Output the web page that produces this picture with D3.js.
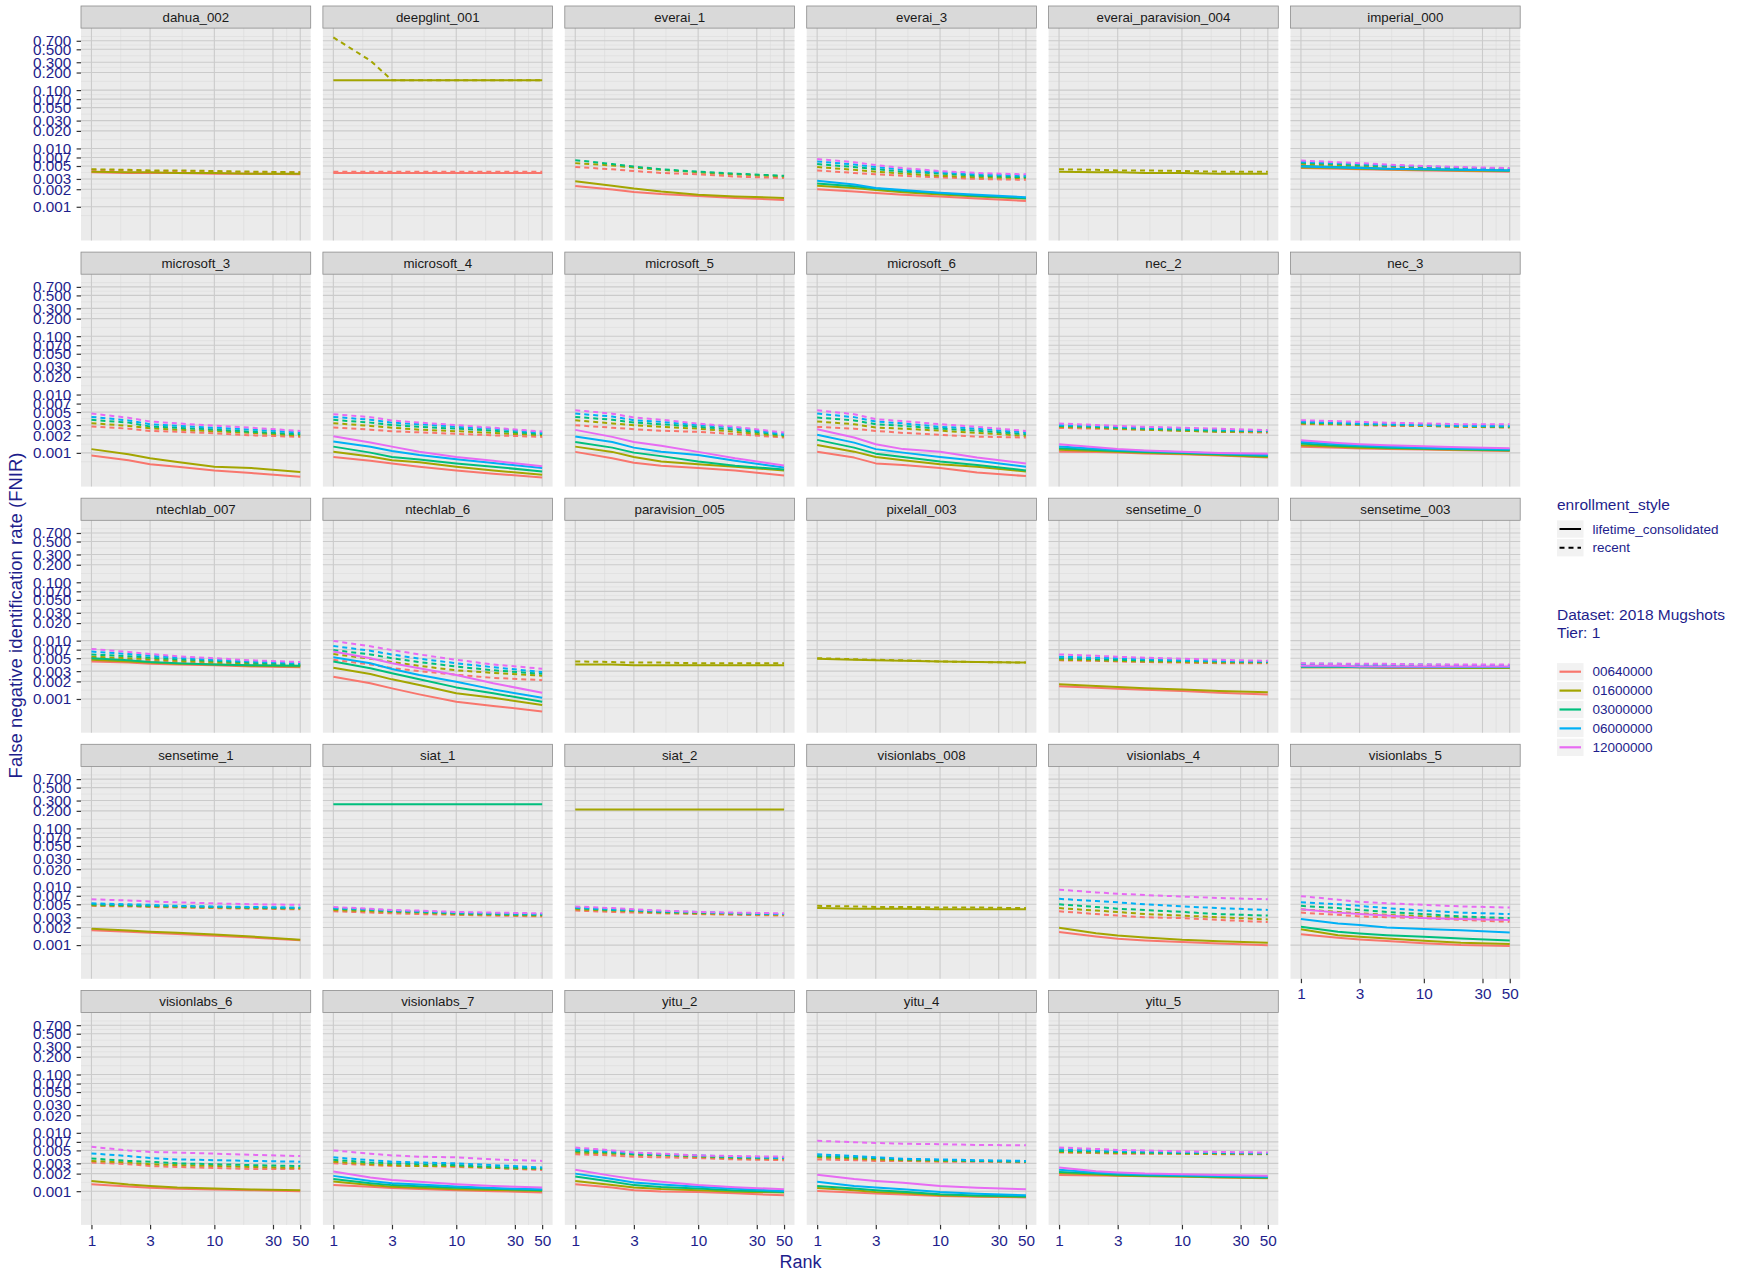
<!DOCTYPE html>
<html><head><meta charset="utf-8">
<script src="https://cdn.jsdelivr.net/npm/d3@7"></script>
<style>
body{margin:0;background:#fff;}
svg{display:block;font-family:"Liberation Sans",Arial,Helvetica,sans-serif;}
</style>
</head><body>
<svg id="chart" width="1741" height="1272"></svg>
<script>
// ---------------- data ----------------
const ranks = [1, 2, 3, 5, 10, 20, 50];
const galleries = ["00640000", "01600000", "03000000", "06000000", "12000000"];
const galleryColors = ["#F8766D", "#A3A500", "#00BF7D", "#00B0F6", "#E76BF3"];
const styles = ["lifetime_consolidated", "recent"];
const L = styles[0], R = styles[1];
const yBreaks = [0.001, 0.002, 0.003, 0.005, 0.007, 0.01, 0.02, 0.03, 0.05, 0.07, 0.1, 0.2, 0.3, 0.5, 0.7];
const xBreaks = [1, 3, 10, 30, 50];
const algorithms = [
  "dahua_002", "deepglint_001", "everai_1", "everai_3", "everai_paravision_004", "imperial_000",
  "microsoft_3", "microsoft_4", "microsoft_5", "microsoft_6", "nec_2", "nec_3",
  "ntechlab_007", "ntechlab_6", "paravision_005", "pixelall_003", "sensetime_0", "sensetime_003",
  "sensetime_1", "siat_1", "siat_2", "visionlabs_008", "visionlabs_4", "visionlabs_5",
  "visionlabs_6", "visionlabs_7", "yitu_2", "yitu_4", "yitu_5"
];

// each row: [gallery, enrollment_style, FNIR at ranks]
const dahua_002 = [
  ["00640000", L, [0.0039, 0.0038, 0.0038, 0.0038, 0.0037, 0.0037, 0.0036]],
  ["00640000", R, [0.0043, 0.0042, 0.0041, 0.0041, 0.0040, 0.0039, 0.0039]],
  ["01600000", L, [0.0040, 0.0039, 0.0039, 0.0038, 0.0038, 0.0037, 0.0037]],
  ["01600000", R, [0.0044, 0.0043, 0.0042, 0.0042, 0.0041, 0.0040, 0.0039]]
];
const deepglint_001 = [
  ["00640000", L, [0.0038, 0.0038, 0.0038, 0.0038, 0.0038, 0.0038, 0.0038]],
  ["00640000", R, [0.0040, 0.0040, 0.0040, 0.0040, 0.0040, 0.0040, 0.0040]],
  ["01600000", L, [0.148, 0.148, 0.148, 0.148, 0.148, 0.148, 0.148]],
  ["01600000", R, [0.80, 0.32, 0.148, 0.148, 0.148, 0.148, 0.148]]
];
const everai_1 = [
  ["00640000", L, [0.00227, 0.00198, 0.0018, 0.00165, 0.00153, 0.00142, 0.00131]],
  ["00640000", R, [0.0048, 0.0044, 0.0041, 0.0038, 0.0036, 0.0033, 0.0031]],
  ["01600000", L, [0.00273, 0.0023, 0.00205, 0.00182, 0.00161, 0.0015, 0.00142]],
  ["01600000", R, [0.0056, 0.0051, 0.0047, 0.0043, 0.0039, 0.0036, 0.0033]],
  ["03000000", R, [0.0063, 0.0054, 0.0049, 0.0044, 0.0040, 0.0037, 0.0034]]
];
const everai_3 = [
  ["00640000", L, [0.00199, 0.00183, 0.00173, 0.00161, 0.0015, 0.00138, 0.00126]],
  ["00640000", R, [0.0042, 0.0038, 0.0036, 0.0034, 0.0032, 0.0030, 0.0029]],
  ["01600000", L, [0.0023, 0.0021, 0.00193, 0.00178, 0.00163, 0.0015, 0.00138]],
  ["01600000", R, [0.0048, 0.0043, 0.0040, 0.0037, 0.0034, 0.0032, 0.0031]],
  ["03000000", L, [0.0025, 0.00225, 0.00205, 0.00188, 0.0017, 0.00155, 0.0014]],
  ["03000000", R, [0.0054, 0.0048, 0.0044, 0.0040, 0.0037, 0.0034, 0.0032]],
  ["06000000", L, [0.0028, 0.0024, 0.0021, 0.00193, 0.00174, 0.0016, 0.00146]],
  ["06000000", R, [0.0060, 0.0053, 0.0048, 0.0043, 0.0039, 0.0036, 0.0034]],
  ["12000000", R, [0.0066, 0.0058, 0.0052, 0.0046, 0.0041, 0.0038, 0.0036]]
];
const everai_paravision_004 = [
  ["01600000", L, [0.0040, 0.0039, 0.0039, 0.0038, 0.0038, 0.0037, 0.0037]],
  ["01600000", R, [0.0044, 0.0043, 0.0042, 0.0042, 0.0041, 0.0040, 0.0040]]
];
const imperial_000 = [
  ["00640000", L, [0.0046, 0.0045, 0.0044, 0.0043, 0.0042, 0.0041, 0.0040]],
  ["00640000", R, [0.0053, 0.0051, 0.0050, 0.0048, 0.0046, 0.0045, 0.0043]],
  ["01600000", L, [0.0047, 0.0046, 0.0045, 0.0044, 0.0043, 0.0042, 0.0041]],
  ["01600000", R, [0.0055, 0.0052, 0.0051, 0.0049, 0.0047, 0.0045, 0.0044]],
  ["03000000", L, [0.0050, 0.0048, 0.0047, 0.0045, 0.0044, 0.0043, 0.0042]],
  ["03000000", R, [0.0057, 0.0054, 0.0052, 0.0050, 0.0048, 0.0046, 0.0044]],
  ["06000000", L, [0.0049, 0.0047, 0.0046, 0.0045, 0.0044, 0.0043, 0.0042]],
  ["06000000", R, [0.0059, 0.0056, 0.0054, 0.0051, 0.0049, 0.0047, 0.0045]],
  ["12000000", R, [0.0062, 0.0058, 0.0056, 0.0053, 0.0050, 0.0048, 0.0046]]
];
const microsoft_3 = [
  ["00640000", L, [0.0009, 0.00075, 0.00064, 0.00058, 0.0005, 0.00045, 0.00039]],
  ["00640000", R, [0.00283, 0.0026, 0.00238, 0.0023, 0.00217, 0.0020, 0.00188]],
  ["01600000", L, [0.00116, 0.00095, 0.00081, 0.0007, 0.00058, 0.00055, 0.00047]],
  ["01600000", R, [0.00323, 0.0029, 0.00265, 0.0025, 0.00235, 0.0022, 0.00198]],
  ["03000000", R, [0.00368, 0.0033, 0.00283, 0.0027, 0.0025, 0.0023, 0.00209]],
  ["06000000", R, [0.00414, 0.0036, 0.0031, 0.0029, 0.0027, 0.0025, 0.00223]],
  ["12000000", R, [0.00472, 0.0040, 0.00345, 0.0032, 0.00294, 0.0027, 0.00238]]
];
const microsoft_4 = [
  ["00640000", L, [0.00085, 0.00073, 0.00066, 0.00058, 0.0005, 0.00044, 0.00038]],
  ["00640000", R, [0.00272, 0.0025, 0.00235, 0.00225, 0.00212, 0.0020, 0.00188]],
  ["01600000", L, [0.00105, 0.00087, 0.00075, 0.00069, 0.00058, 0.0005, 0.00042]],
  ["01600000", R, [0.00323, 0.0029, 0.0027, 0.0025, 0.00235, 0.0022, 0.0020]],
  ["03000000", L, [0.00128, 0.00101, 0.00085, 0.00077, 0.00066, 0.00058, 0.00048]],
  ["03000000", R, [0.00368, 0.0033, 0.0030, 0.0028, 0.0026, 0.0024, 0.0021]],
  ["06000000", L, [0.00156, 0.00127, 0.00108, 0.00092, 0.00078, 0.00067, 0.00055]],
  ["06000000", R, [0.00414, 0.0037, 0.0033, 0.0031, 0.0028, 0.0026, 0.0022]],
  ["12000000", L, [0.00193, 0.0015, 0.00128, 0.00105, 0.00085, 0.00073, 0.00059]],
  ["12000000", R, [0.0046, 0.0041, 0.0036, 0.0033, 0.0030, 0.0027, 0.00232]]
];
const microsoft_5 = [
  ["00640000", L, [0.00104, 0.00081, 0.00068, 0.0006, 0.00055, 0.0005, 0.00041]],
  ["00640000", R, [0.00298, 0.0027, 0.00255, 0.0024, 0.00229, 0.0021, 0.00183]],
  ["01600000", L, [0.00128, 0.00104, 0.00085, 0.00071, 0.00064, 0.00058, 0.0005]],
  ["01600000", R, [0.00363, 0.0032, 0.00298, 0.0028, 0.0026, 0.0023, 0.00191]],
  ["03000000", L, [0.00154, 0.00123, 0.00101, 0.00088, 0.00071, 0.0006, 0.00052]],
  ["03000000", R, [0.00414, 0.0037, 0.00331, 0.0031, 0.0028, 0.0025, 0.00201]],
  ["06000000", L, [0.00191, 0.00154, 0.00123, 0.00105, 0.00092, 0.00073, 0.00056]],
  ["06000000", R, [0.00472, 0.0042, 0.00363, 0.0034, 0.0030, 0.0027, 0.00209]],
  ["12000000", L, [0.00248, 0.00188, 0.00154, 0.00132, 0.00104, 0.00081, 0.00061]],
  ["12000000", R, [0.00539, 0.0047, 0.00404, 0.0037, 0.00318, 0.0028, 0.00223]]
];
const microsoft_6 = [
  ["00640000", L, [0.00105, 0.00083, 0.00066, 0.00062, 0.00055, 0.00046, 0.0004]],
  ["00640000", R, [0.00279, 0.0026, 0.00238, 0.0022, 0.00204, 0.0019, 0.00183]],
  ["01600000", L, [0.00137, 0.00105, 0.00085, 0.00075, 0.00064, 0.00058, 0.00048]],
  ["01600000", R, [0.00345, 0.0031, 0.00272, 0.0026, 0.0024, 0.0022, 0.00196]],
  ["03000000", L, [0.00167, 0.00123, 0.00097, 0.00085, 0.00071, 0.00062, 0.0005]],
  ["03000000", R, [0.00404, 0.0036, 0.0031, 0.0029, 0.0026, 0.0024, 0.00209]],
  ["06000000", L, [0.00204, 0.0015, 0.00116, 0.00101, 0.00085, 0.00073, 0.00058]],
  ["06000000", R, [0.00472, 0.0041, 0.00345, 0.0032, 0.0028, 0.0026, 0.00223]],
  ["12000000", L, [0.00255, 0.00183, 0.00141, 0.00116, 0.00105, 0.00083, 0.00066]],
  ["12000000", R, [0.00539, 0.0046, 0.00378, 0.0035, 0.0031, 0.0028, 0.00238]]
];
const nec_2 = [
  ["00640000", L, [0.00105, 0.00104, 0.00102, 0.00098, 0.00095, 0.0009, 0.00083]],
  ["00640000", R, [0.00268, 0.0026, 0.00255, 0.0025, 0.0024, 0.0023, 0.00222]],
  ["01600000", L, [0.00113, 0.00108, 0.00105, 0.00101, 0.00097, 0.00092, 0.00085]],
  ["01600000", R, [0.0028, 0.0027, 0.0026, 0.0025, 0.0024, 0.0023, 0.0023]],
  ["03000000", L, [0.0012, 0.00112, 0.00108, 0.00104, 0.0010, 0.00095, 0.00088]],
  ["03000000", R, [0.0029, 0.0028, 0.0027, 0.0026, 0.0025, 0.0024, 0.00235]],
  ["06000000", L, [0.00128, 0.00118, 0.00112, 0.00108, 0.00103, 0.00098, 0.00092]],
  ["06000000", R, [0.0030, 0.0029, 0.0028, 0.0027, 0.0026, 0.0025, 0.0024]],
  ["12000000", L, [0.00141, 0.00125, 0.00116, 0.0011, 0.00105, 0.0010, 0.00097]],
  ["12000000", R, [0.0032, 0.0030, 0.0029, 0.0028, 0.0027, 0.0026, 0.00245]]
];
const nec_3 = [
  ["00640000", L, [0.00127, 0.00122, 0.00119, 0.00117, 0.00114, 0.00111, 0.00108]],
  ["00640000", R, [0.0031, 0.00305, 0.0030, 0.0029, 0.0029, 0.0028, 0.00272]],
  ["01600000", L, [0.00135, 0.00127, 0.00123, 0.0012, 0.00116, 0.00113, 0.0011]],
  ["01600000", R, [0.00318, 0.0031, 0.00305, 0.0030, 0.0029, 0.0028, 0.00275]],
  ["03000000", L, [0.00145, 0.00133, 0.00128, 0.00123, 0.00119, 0.00115, 0.00111]],
  ["03000000", R, [0.00331, 0.0032, 0.0031, 0.00305, 0.0030, 0.0029, 0.0028]],
  ["06000000", L, [0.00154, 0.0014, 0.00134, 0.00128, 0.00122, 0.00118, 0.00115]],
  ["06000000", R, [0.00345, 0.0033, 0.0032, 0.0031, 0.0030, 0.0029, 0.0029]],
  ["12000000", L, [0.00165, 0.00148, 0.00141, 0.00135, 0.0013, 0.00125, 0.0012]],
  ["12000000", R, [0.00363, 0.0035, 0.0034, 0.0033, 0.0032, 0.0031, 0.0031]]
];
const ntechlab_007 = [
  ["00640000", L, [0.0044, 0.0042, 0.0040, 0.0039, 0.0038, 0.0036, 0.0035]],
  ["00640000", R, [0.0050, 0.0047, 0.0045, 0.0043, 0.0041, 0.0039, 0.0037]],
  ["01600000", L, [0.0047, 0.0044, 0.0042, 0.0040, 0.0039, 0.0037, 0.0036]],
  ["01600000", R, [0.0053, 0.0050, 0.0048, 0.0045, 0.0043, 0.0040, 0.0038]],
  ["03000000", L, [0.0050, 0.0046, 0.0043, 0.0041, 0.0039, 0.0038, 0.0037]],
  ["03000000", R, [0.0058, 0.0054, 0.0051, 0.0048, 0.0045, 0.0042, 0.0039]],
  ["06000000", R, [0.0065, 0.0059, 0.0055, 0.0051, 0.0047, 0.0044, 0.0041]],
  ["12000000", R, [0.0072, 0.0064, 0.0059, 0.0054, 0.0050, 0.0046, 0.0043]]
];
const ntechlab_6 = [
  ["00640000", L, [0.00241, 0.00186, 0.00152, 0.0012, 0.0009, 0.00076, 0.00061]],
  ["00640000", R, [0.0047, 0.0039, 0.0034, 0.0030, 0.0026, 0.0023, 0.0021]],
  ["01600000", L, [0.00344, 0.00268, 0.00217, 0.00174, 0.00125, 0.00105, 0.00079]],
  ["01600000", R, [0.0059, 0.0049, 0.0043, 0.0037, 0.0031, 0.0028, 0.0025]],
  ["03000000", L, [0.0044, 0.00336, 0.00275, 0.00217, 0.00158, 0.00125, 0.0009]],
  ["03000000", R, [0.0069, 0.0058, 0.0050, 0.0043, 0.0036, 0.0031, 0.0027]],
  ["06000000", L, [0.0052, 0.0041, 0.00327, 0.00258, 0.00198, 0.00146, 0.00105]],
  ["06000000", R, [0.0081, 0.0067, 0.0058, 0.0049, 0.0041, 0.0035, 0.0029]],
  ["12000000", L, [0.0065, 0.0050, 0.0041, 0.00336, 0.00258, 0.00186, 0.00128]],
  ["12000000", R, [0.0099, 0.0080, 0.0069, 0.0058, 0.0047, 0.0039, 0.0033]]
];
const paravision_005 = [
  ["01600000", L, [0.0039, 0.0039, 0.0038, 0.0038, 0.0038, 0.0038, 0.0038]],
  ["01600000", R, [0.0044, 0.0043, 0.0042, 0.0042, 0.0041, 0.0041, 0.0041]]
];
const pixelall_003 = [
  ["01600000", L, [0.0049, 0.0047, 0.0046, 0.0045, 0.0044, 0.0043, 0.0042]],
  ["01600000", R, [0.0050, 0.0048, 0.0047, 0.0046, 0.0044, 0.0043, 0.0042]]
];
const sensetime_0 = [
  ["00640000", L, [0.00165, 0.00155, 0.0015, 0.00144, 0.00137, 0.00128, 0.00119]],
  ["00640000", R, [0.0046, 0.0045, 0.0044, 0.0043, 0.0042, 0.0041, 0.0041]],
  ["01600000", L, [0.00178, 0.00167, 0.0016, 0.00153, 0.00145, 0.00137, 0.0013]],
  ["01600000", R, [0.0047, 0.0046, 0.0045, 0.0044, 0.0043, 0.0042, 0.0042]],
  ["03000000", R, [0.0050, 0.0048, 0.0047, 0.0046, 0.0045, 0.0044, 0.0043]],
  ["06000000", R, [0.0053, 0.0051, 0.0050, 0.0048, 0.0046, 0.0045, 0.0044]],
  ["12000000", R, [0.0058, 0.0055, 0.0053, 0.0051, 0.0049, 0.0047, 0.0045]]
];
const sensetime_003 = [
  ["00640000", L, [0.0035, 0.0035, 0.0035, 0.0034, 0.0034, 0.0034, 0.0034]],
  ["00640000", R, [0.0039, 0.0039, 0.0038, 0.0038, 0.0038, 0.0037, 0.0037]],
  ["01600000", L, [0.0035, 0.0035, 0.0035, 0.0035, 0.0035, 0.0034, 0.0034]],
  ["01600000", R, [0.0039, 0.0039, 0.0039, 0.0038, 0.0038, 0.0038, 0.0037]],
  ["03000000", L, [0.0036, 0.0036, 0.0035, 0.0035, 0.0035, 0.0035, 0.0035]],
  ["03000000", R, [0.0040, 0.0039, 0.0039, 0.0039, 0.0038, 0.0038, 0.0038]],
  ["06000000", L, [0.0036, 0.0036, 0.0036, 0.0036, 0.00355, 0.00355, 0.00355]],
  ["06000000", R, [0.0040, 0.0040, 0.0039, 0.0039, 0.0039, 0.0038, 0.0038]],
  ["12000000", L, [0.0037, 0.0037, 0.0036, 0.0036, 0.0036, 0.0036, 0.0036]],
  ["12000000", R, [0.0041, 0.0040, 0.0040, 0.0040, 0.0039, 0.0039, 0.0039]]
];
const sensetime_1 = [
  ["00640000", L, [0.0018, 0.0017, 0.00163, 0.00155, 0.00145, 0.00135, 0.00121]],
  ["00640000", R, [0.0047, 0.0046, 0.0045, 0.0044, 0.0043, 0.0042, 0.0041]],
  ["01600000", L, [0.0019, 0.00177, 0.0017, 0.00162, 0.00152, 0.0014, 0.00123]],
  ["01600000", R, [0.0048, 0.0047, 0.0046, 0.0045, 0.0044, 0.0043, 0.0042]],
  ["03000000", R, [0.0050, 0.0048, 0.0047, 0.0046, 0.0045, 0.0044, 0.0043]],
  ["06000000", R, [0.0052, 0.0050, 0.0049, 0.0047, 0.0046, 0.0045, 0.0044]],
  ["12000000", R, [0.0061, 0.0058, 0.0056, 0.0054, 0.0052, 0.0050, 0.0049]]
];
const siat_1 = [
  ["00640000", R, [0.0038, 0.0036, 0.0035, 0.0034, 0.0033, 0.0032, 0.0031]],
  ["01600000", R, [0.0040, 0.0038, 0.0037, 0.0036, 0.0034, 0.0033, 0.0032]],
  ["03000000", L, [0.26, 0.26, 0.26, 0.26, 0.26, 0.26, 0.26]],
  ["03000000", R, [0.0042, 0.0040, 0.0038, 0.0037, 0.0035, 0.0034, 0.0033]],
  ["06000000", R, [0.0043, 0.0041, 0.0039, 0.0038, 0.0036, 0.0035, 0.0034]],
  ["12000000", R, [0.0045, 0.0042, 0.0040, 0.0039, 0.0037, 0.0036, 0.0035]]
];
const siat_2 = [
  ["00640000", R, [0.0039, 0.0037, 0.0036, 0.0035, 0.0034, 0.0033, 0.0032]],
  ["01600000", L, [0.21, 0.21, 0.21, 0.21, 0.21, 0.21, 0.21]],
  ["01600000", R, [0.0041, 0.0039, 0.0038, 0.0036, 0.0035, 0.0034, 0.0033]],
  ["03000000", R, [0.0043, 0.0040, 0.0039, 0.0037, 0.0036, 0.0035, 0.0034]],
  ["06000000", R, [0.0044, 0.0041, 0.0040, 0.0038, 0.0037, 0.0035, 0.0034]],
  ["12000000", R, [0.0046, 0.0043, 0.0041, 0.0039, 0.0037, 0.0036, 0.0035]]
];
const visionlabs_008 = [
  ["01600000", L, [0.0043, 0.0042, 0.0042, 0.0042, 0.0041, 0.0041, 0.0041]],
  ["01600000", R, [0.0047, 0.0046, 0.0045, 0.0045, 0.0044, 0.0044, 0.0043]]
];
const visionlabs_4 = [
  ["00640000", L, [0.00167, 0.0014, 0.00128, 0.0012, 0.00113, 0.00106, 0.00099]],
  ["00640000", R, [0.0038, 0.0034, 0.0032, 0.0030, 0.0029, 0.0027, 0.00248]],
  ["01600000", L, [0.00198, 0.0016, 0.00146, 0.00135, 0.00123, 0.00116, 0.0011]],
  ["01600000", R, [0.0043, 0.0039, 0.0037, 0.0034, 0.0032, 0.0030, 0.00275]],
  ["03000000", R, [0.0050, 0.0045, 0.0042, 0.0040, 0.0037, 0.0034, 0.0032]],
  ["06000000", R, [0.0062, 0.0057, 0.0054, 0.0050, 0.0046, 0.0043, 0.0040]],
  ["12000000", R, [0.0089, 0.0080, 0.0076, 0.0072, 0.0068, 0.0064, 0.0061]]
];
const visionlabs_5 = [
  ["00640000", L, [0.00154, 0.00134, 0.00125, 0.00117, 0.00107, 0.0010, 0.00096]],
  ["00640000", R, [0.0036, 0.0033, 0.0031, 0.0030, 0.0029, 0.0027, 0.0025]],
  ["01600000", L, [0.00186, 0.00148, 0.00139, 0.0013, 0.00119, 0.0011, 0.00104]],
  ["01600000", R, [0.0041, 0.0037, 0.0035, 0.0033, 0.0031, 0.0029, 0.0027]],
  ["03000000", L, [0.00206, 0.00169, 0.00158, 0.00148, 0.00139, 0.0013, 0.0012]],
  ["03000000", R, [0.0047, 0.0043, 0.0040, 0.0037, 0.0034, 0.0031, 0.0029]],
  ["06000000", L, [0.0028, 0.00235, 0.0022, 0.0020, 0.00188, 0.0018, 0.00165]],
  ["06000000", R, [0.0054, 0.0050, 0.0047, 0.0043, 0.0039, 0.0036, 0.0034]],
  ["12000000", L, [0.0041, 0.0036, 0.0034, 0.0032, 0.0029, 0.0028, 0.0027]],
  ["12000000", R, [0.0069, 0.0060, 0.0055, 0.0052, 0.0049, 0.0046, 0.0044]]
];
const visionlabs_6 = [
  ["00640000", L, [0.00132, 0.0012, 0.00114, 0.0011, 0.00107, 0.00104, 0.0010]],
  ["00640000", R, [0.0031, 0.0029, 0.0027, 0.0026, 0.0025, 0.0024, 0.0024]],
  ["01600000", L, [0.0015, 0.0013, 0.00123, 0.00116, 0.00111, 0.00107, 0.00104]],
  ["01600000", R, [0.0033, 0.0031, 0.0029, 0.0028, 0.0027, 0.0026, 0.0025]],
  ["03000000", R, [0.00363, 0.0033, 0.0032, 0.0030, 0.0029, 0.0028, 0.0027]],
  ["06000000", R, [0.00443, 0.0040, 0.0037, 0.0035, 0.0034, 0.0033, 0.0032]],
  ["12000000", R, [0.00575, 0.0050, 0.0047, 0.0046, 0.0044, 0.0042, 0.0040]]
];
const visionlabs_7 = [
  ["00640000", L, [0.00128, 0.00119, 0.00113, 0.00109, 0.00104, 0.0010, 0.00095]],
  ["00640000", R, [0.0030, 0.0028, 0.0027, 0.0027, 0.0026, 0.0025, 0.0023]],
  ["01600000", L, [0.00147, 0.00128, 0.00119, 0.00114, 0.00108, 0.00105, 0.00101]],
  ["01600000", R, [0.0032, 0.0029, 0.0028, 0.0027, 0.0027, 0.0025, 0.0024]],
  ["03000000", L, [0.00161, 0.00137, 0.00127, 0.00121, 0.00114, 0.0011, 0.00104]],
  ["03000000", R, [0.00345, 0.0031, 0.0030, 0.0029, 0.0028, 0.0026, 0.00245]],
  ["06000000", L, [0.00183, 0.0015, 0.00137, 0.0013, 0.0012, 0.00113, 0.00108]],
  ["06000000", R, [0.0038, 0.0034, 0.0032, 0.0031, 0.0030, 0.0028, 0.00255]],
  ["12000000", L, [0.00217, 0.00171, 0.00156, 0.00145, 0.00132, 0.00123, 0.00116]],
  ["12000000", R, [0.0050, 0.0044, 0.0041, 0.0039, 0.0038, 0.0035, 0.0033]]
];
const yitu_2 = [
  ["00640000", L, [0.00132, 0.00116, 0.00104, 0.00099, 0.00097, 0.00092, 0.00085]],
  ["00640000", R, [0.0043, 0.0041, 0.0039, 0.0038, 0.0037, 0.0035, 0.0034]],
  ["01600000", L, [0.0015, 0.00128, 0.00116, 0.00109, 0.00104, 0.00098, 0.00095]],
  ["01600000", R, [0.0046, 0.0044, 0.0042, 0.0041, 0.0039, 0.0037, 0.0036]],
  ["03000000", L, [0.00178, 0.00145, 0.00127, 0.00118, 0.00111, 0.00103, 0.00097]],
  ["03000000", R, [0.0049, 0.0046, 0.0043, 0.0042, 0.0040, 0.0038, 0.0037]],
  ["06000000", L, [0.0020, 0.00161, 0.00141, 0.0013, 0.00119, 0.0011, 0.00101]],
  ["06000000", R, [0.00525, 0.0048, 0.0045, 0.0043, 0.0041, 0.0039, 0.0037]],
  ["12000000", L, [0.00232, 0.00183, 0.00161, 0.00145, 0.00128, 0.00117, 0.00108]],
  ["12000000", R, [0.0056, 0.0050, 0.0046, 0.0044, 0.0041, 0.0040, 0.0039]]
];
const yitu_4 = [
  ["00640000", L, [0.00101, 0.00095, 0.00091, 0.00088, 0.00083, 0.0008, 0.00078]],
  ["00640000", R, [0.0035, 0.0034, 0.0033, 0.0033, 0.0032, 0.0032, 0.0031]],
  ["01600000", L, [0.00113, 0.00104, 0.00097, 0.00093, 0.00085, 0.00082, 0.0008]],
  ["01600000", R, [0.0038, 0.0036, 0.0035, 0.0034, 0.0033, 0.0033, 0.0032]],
  ["03000000", L, [0.00123, 0.00111, 0.00104, 0.00098, 0.00089, 0.00084, 0.00081]],
  ["03000000", R, [0.0040, 0.0038, 0.0037, 0.0035, 0.0034, 0.0033, 0.0032]],
  ["06000000", L, [0.00145, 0.00123, 0.00116, 0.00108, 0.00097, 0.0009, 0.00085]],
  ["06000000", R, [0.0043, 0.0040, 0.0038, 0.0036, 0.0035, 0.0034, 0.0033]],
  ["12000000", L, [0.00191, 0.00161, 0.0015, 0.0014, 0.00123, 0.00115, 0.00108]],
  ["12000000", R, [0.0073, 0.0069, 0.0067, 0.0065, 0.0064, 0.0062, 0.0061]]
];
const yitu_5 = [
  ["00640000", L, [0.0019, 0.00186, 0.00183, 0.0018, 0.00178, 0.00172, 0.00167]],
  ["00640000", R, [0.0046, 0.0045, 0.0044, 0.0044, 0.0044, 0.0043, 0.0043]],
  ["01600000", L, [0.00204, 0.00193, 0.00186, 0.00182, 0.00178, 0.00173, 0.00169]],
  ["01600000", R, [0.0047, 0.0046, 0.0045, 0.0045, 0.0044, 0.0044, 0.0044]],
  ["03000000", L, [0.00214, 0.0020, 0.00191, 0.00186, 0.00182, 0.00177, 0.00171]],
  ["03000000", R, [0.0049, 0.0048, 0.0047, 0.0046, 0.0045, 0.0045, 0.0044]],
  ["06000000", L, [0.00232, 0.0021, 0.0020, 0.00193, 0.00188, 0.00182, 0.00176]],
  ["06000000", R, [0.00525, 0.0050, 0.0049, 0.0048, 0.0047, 0.0046, 0.0045]],
  ["12000000", L, [0.00255, 0.0022, 0.00209, 0.0020, 0.00196, 0.0019, 0.00183]],
  ["12000000", R, [0.0056, 0.0053, 0.0051, 0.0050, 0.0048, 0.0047, 0.0046]]
];

const seriesByAlgorithm = {
  dahua_002, deepglint_001, everai_1, everai_3, everai_paravision_004, imperial_000,
  microsoft_3, microsoft_4, microsoft_5, microsoft_6, nec_2, nec_3,
  ntechlab_007, ntechlab_6, paravision_005, pixelall_003, sensetime_0, sensetime_003,
  sensetime_1, siat_1, siat_2, visionlabs_008, visionlabs_4, visionlabs_5,
  visionlabs_6, visionlabs_7, yitu_2, yitu_4, yitu_5
};

// ---------------- layout ----------------
const svg = d3.select("#chart");
const axisColor = "#1e1e8c";
const ncol = 6;
const panelW = 229.7, panelH = 212.4, stripH = 22.1;
const colStep = 241.9, rowStep = 246.1;
const originX = 81, originY = 6;

const x = d3.scaleLog().domain([Math.pow(10, -0.085), Math.pow(10, 1.784)]).range([0, panelW]);
const y = d3.scaleLog().domain([Math.pow(10, -3.578), Math.pow(10, 0.0626)]).range([panelH, 0]);

const color = d3.scaleOrdinal().domain(galleries).range(galleryColors);
const dash = d3.scaleOrdinal().domain(styles).range(["none", "5,4"]);

// minor breaks: midpoints (log space) between majors, extended one step at each end
function minorBreaks(breaks, domain) {
  const lb = breaks.map(Math.log10);
  const ext = [lb[0] - (lb[1] - lb[0]), ...lb, lb[lb.length - 1] + (lb[lb.length - 1] - lb[lb.length - 2])];
  const out = [];
  for (let i = 0; i < ext.length - 1; i++) out.push(Math.pow(10, (ext[i] + ext[i + 1]) / 2));
  const [a, b] = domain;
  return out.filter(v => v > a && v < b);
}
const yMinor = minorBreaks(yBreaks, y.domain());
const xMinor = minorBreaks(xBreaks, x.domain());

const line = d3.line().x(d => x(d.rank)).y(d => y(d.v)).curve(d3.curveLinear);

const defs = svg.append("defs");
defs.append("clipPath").attr("id", "panelClip")
  .append("rect").attr("width", panelW).attr("height", panelH);

const nPanels = algorithms.length;
algorithms.forEach((alg, i) => {
  const col = i % ncol, row = Math.floor(i / ncol);
  const px = originX + col * colStep;
  const sy = originY + row * rowStep;
  const py = sy + stripH;

  const g = svg.append("g").attr("transform", `translate(${px},${py})`);
  g.append("rect").attr("width", panelW).attr("height", panelH).attr("fill", "#EBEBEB");

  const grid = g.append("g");
  grid.selectAll(".ymin").data(yMinor).join("line")
    .attr("x1", 0).attr("x2", panelW).attr("y1", d => y(d)).attr("y2", d => y(d))
    .attr("stroke", "#DCDCDC").attr("stroke-width", 0.6);
  grid.selectAll(".xmin").data(xMinor).join("line")
    .attr("y1", 0).attr("y2", panelH).attr("x1", d => x(d)).attr("x2", d => x(d))
    .attr("stroke", "#DCDCDC").attr("stroke-width", 0.6);
  grid.selectAll(".ymaj").data(yBreaks).join("line")
    .attr("x1", 0).attr("x2", panelW).attr("y1", d => y(d)).attr("y2", d => y(d))
    .attr("stroke", "#CBCBCB").attr("stroke-width", 1.1);
  grid.selectAll(".xmaj").data(xBreaks).join("line")
    .attr("y1", 0).attr("y2", panelH).attr("x1", d => x(d)).attr("x2", d => x(d))
    .attr("stroke", "#CBCBCB").attr("stroke-width", 1.1);

  const series = seriesByAlgorithm[alg].slice().sort((a, b) =>
    (galleries.indexOf(a[0]) - galleries.indexOf(b[0])) || (styles.indexOf(a[1]) - styles.indexOf(b[1])));
  const lg = g.append("g").attr("clip-path", "url(#panelClip)");
  series.forEach(([gal, sty, vals]) => {
    lg.append("path")
      .datum(vals.map((v, k) => ({ rank: ranks[k], v })))
      .attr("d", line)
      .attr("fill", "none")
      .attr("stroke", color(gal))
      .attr("stroke-width", 2)
      .attr("stroke-linejoin", "round")
      .attr("stroke-dasharray", dash(sty));
  });

  // strip
  svg.append("rect").attr("x", px).attr("y", sy).attr("width", panelW).attr("height", stripH)
    .attr("fill", "#D9D9D9").attr("stroke", "#8C8C8C").attr("stroke-width", 0.8);
  svg.append("text").attr("x", px + panelW / 2).attr("y", sy + stripH / 2)
    .attr("text-anchor", "middle").attr("dominant-baseline", "central")
    .attr("font-size", "13.3px").attr("fill", "#1A1A1A").text(alg);

  // y axis on first column
  if (col === 0) {
    const ya = g.append("g").call(d3.axisLeft(y).tickValues(yBreaks)
      .tickFormat(d3.format(".3f")).tickSize(4.4).tickPadding(5.4));
    ya.select(".domain").remove();
    ya.selectAll(".tick line").attr("stroke", "#333333").attr("stroke-width", 1.2);
    ya.selectAll(".tick text").attr("fill", axisColor).attr("font-size", "15.3px")
      .attr("font-family", "'Liberation Sans', Arial, sans-serif");
  }
  // x axis where no panel below
  if (i + ncol >= nPanels) {
    const xa = g.append("g").attr("transform", `translate(0,${panelH})`)
      .call(d3.axisBottom(x).tickValues(xBreaks).tickFormat(d3.format("d")).tickSize(4.4).tickPadding(5.4));
    xa.select(".domain").remove();
    xa.selectAll(".tick line").attr("stroke", "#333333").attr("stroke-width", 1.2);
    xa.selectAll(".tick text").attr("fill", axisColor).attr("font-size", "15.3px")
      .attr("font-family", "'Liberation Sans', Arial, sans-serif");
  }
});

// axis titles
const gridTop = originY, gridBottom = originY + 4 * rowStep + stripH + panelH;
const gridLeft = originX, gridRight = originX + 5 * colStep + panelW;
svg.append("text")
  .attr("transform", `translate(15,${(gridTop + gridBottom) / 2}) rotate(-90)`)
  .attr("text-anchor", "middle").attr("dominant-baseline", "central")
  .attr("font-size", "18.5px").attr("fill", axisColor)
  .text("False negative identification rate (FNIR)");
svg.append("text")
  .attr("x", (gridLeft + gridRight) / 2).attr("y", 1262)
  .attr("text-anchor", "middle").attr("dominant-baseline", "central")
  .attr("font-size", "18px").attr("fill", axisColor).text("Rank");

// ---------------- legend ----------------
const lgX = 1557;
const leg = svg.append("g").attr("font-family", "'Liberation Sans', Arial, sans-serif");
leg.append("text").attr("x", lgX).attr("y", 504).attr("dominant-baseline", "central")
  .attr("font-size", "15.5px").attr("fill", axisColor).text("enrollment_style");
styles.forEach((s, k) => {
  const cy = 529 + k * 18.7;
  leg.append("rect").attr("x", lgX).attr("y", cy - 8.6).attr("width", 26.5).attr("height", 17.3).attr("fill", "#F2F2F2");
  leg.append("line").attr("x1", lgX + 2.5).attr("x2", lgX + 24).attr("y1", cy).attr("y2", cy)
    .attr("stroke", "#000").attr("stroke-width", 2).attr("stroke-dasharray", dash(s));
  leg.append("text").attr("x", lgX + 35.5).attr("y", cy).attr("dominant-baseline", "central")
    .attr("font-size", "13.5px").attr("fill", axisColor).text(s);
});
leg.append("text").attr("x", lgX).attr("y", 614).attr("dominant-baseline", "central")
  .attr("font-size", "15.5px").attr("fill", axisColor).text("Dataset: 2018 Mugshots");
leg.append("text").attr("x", lgX).attr("y", 632).attr("dominant-baseline", "central")
  .attr("font-size", "15.5px").attr("fill", axisColor).text("Tier: 1");
galleries.forEach((gname, k) => {
  const cy = 671.7 + k * 18.9;
  leg.append("rect").attr("x", lgX).attr("y", cy - 8.6).attr("width", 26.5).attr("height", 17.3).attr("fill", "#F2F2F2");
  leg.append("line").attr("x1", lgX + 2.5).attr("x2", lgX + 24).attr("y1", cy).attr("y2", cy)
    .attr("stroke", color(gname)).attr("stroke-width", 2.2);
  leg.append("text").attr("x", lgX + 35.5).attr("y", cy).attr("dominant-baseline", "central")
    .attr("font-size", "13.5px").attr("fill", axisColor).text(gname);
});
</script>
</body></html>
